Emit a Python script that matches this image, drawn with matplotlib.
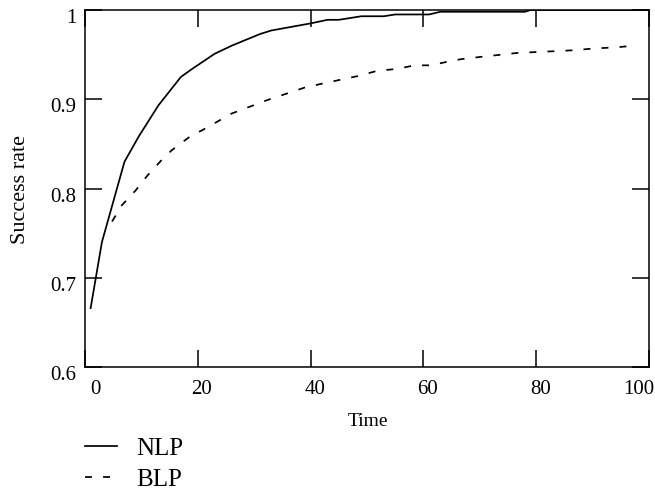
import matplotlib
matplotlib.use("Agg")
import matplotlib.pyplot as plt
import matplotlib.transforms as mtransforms

# data
nlp_time = [1, 3, 7, 9.5, 13, 17, 19, 23, 26, 31, 33, 40, 43, 45, 49, 53, 55,
            61, 63, 78, 79, 100]
nlp_rate = [0.666, 0.740, 0.830, 0.858, 0.893, 0.925, 0.934, 0.951, 0.960,
            0.973, 0.977, 0.985, 0.989, 0.989, 0.993, 0.993, 0.995, 0.995,
            0.998, 0.998, 1.0, 1.0]

blp_time = [4.8, 6.5, 9, 11, 13.6, 15.4, 19, 20.7, 26, 32.3, 38.9, 42.4, 45.4,
            48.4, 51.9, 55.4, 58.4, 61.4, 64.9, 66.8, 70.9, 73.9, 76.8, 80.4,
            83.9, 86.9, 90.4, 93.9, 97.3]
blp_rate = [0.763, 0.781, 0.798, 0.814, 0.832, 0.843, 0.860, 0.865, 0.884,
            0.899, 0.913, 0.918, 0.922, 0.926, 0.932, 0.934, 0.938, 0.938,
            0.943, 0.945, 0.948, 0.950, 0.952, 0.953, 0.954, 0.955, 0.957,
            0.958, 0.960]

x_ticks = [0, 20, 40, 60, 80, 100]
y_ticks = [0.6, 0.7, 0.8, 0.9, 1.0]
y_ticklabels = ["0.6", "0.7", "0.8", "0.9", "1"]

plt.rcParams['font.family'] = ['Liberation Serif', 'DejaVu Serif']

W, H = 655, 498
fig = plt.figure(figsize=(W / 100, H / 100), dpi=100)
ax = fig.add_axes([85 / W, (H - 367) / H, (649 - 85) / W, (367 - 10) / H])

lw = 1.25
ax.plot(nlp_time, nlp_rate, color='black', lw=lw, label='NLP')
ax.plot(blp_time, blp_rate, color='black', lw=lw, dashes=(5 / lw, 8 / lw),
        label='BLP')

ax.set_xlim(0, 100)
ax.set_ylim(0.6, 1.0)
ax.set_xticks(x_ticks)
ax.set_yticks(y_ticks)
ax.set_yticklabels(y_ticklabels)

for s in ax.spines.values():
    s.set_linewidth(1.1)
ax.tick_params(direction='in', length=12, width=1.1, top=True, right=True,
               labelsize=15, colors='black')
ax.tick_params(axis='x', pad=9.5)
ax.tick_params(axis='y', pad=6)

# the reference nudges its tick labels a little
dpi_tr = fig.dpi_scale_trans
for lab in ax.get_yticklabels():
    lab.set_transform(lab.get_transform() + mtransforms.ScaledTranslation(0, -0.06, dpi_tr))
xlabs = ax.get_xticklabels()
for i, lab in enumerate(xlabs):
    dx = 0.04
    if i == 0:
        dx = 0.10
    elif i == len(xlabs) - 1:
        dx = -0.10
    lab.set_transform(lab.get_transform() + mtransforms.ScaledTranslation(dx, 0, dpi_tr))

ax.set_xlabel("Time", fontsize=14)
ax.set_ylabel("Success rate", fontsize=16)
ax.xaxis.set_label_coords(0.502, -0.128)
ax.yaxis.set_label_coords(-0.0975, 0.496)

fig.legend(loc='upper left', bbox_to_anchor=(85 / W, 1 - 437 / H),
           frameon=False, fontsize=18, borderpad=0, borderaxespad=0,
           handlelength=1.28, handletextpad=0.76, labelspacing=0.36)

fig.savefig("out.png", dpi=100)
